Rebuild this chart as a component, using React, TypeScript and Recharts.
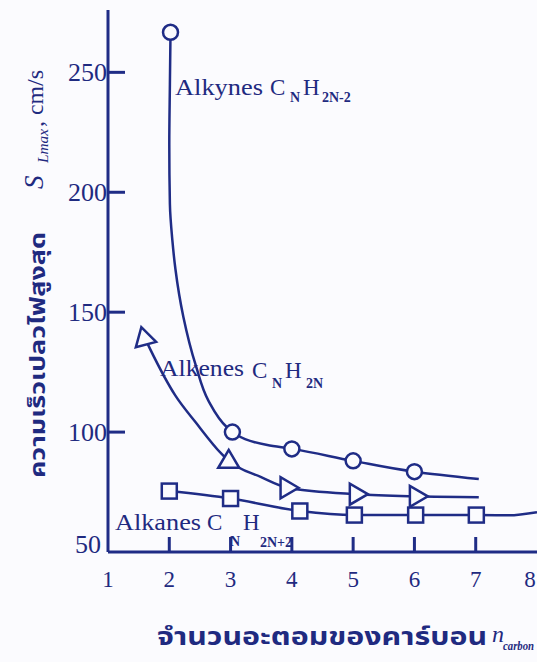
import React from 'react';
import { ComposedChart, Line, Scatter, XAxis, YAxis } from 'recharts';

// ---------- data ----------
const xTicks = [1, 2, 3, 4, 5, 6, 7, 8];
const xTopTicks = [2, 3, 4, 5, 6, 7];
const yTicks = [50, 100, 150, 200, 250];
const yRightTicks = [100, 150, 200, 250];

const alkyneMarkers = [
  { x: 2.02, y: 266.7 },
  { x: 3.03, y: 100 },
  { x: 4.0, y: 93 },
  { x: 5.0, y: 88 },
  { x: 6.0, y: 83.5 },
];
const alkyneCurve = [
  { x: 2.02, y: 266.7 },
  { x: 2.01, y: 245 },
  { x: 2.0, y: 220 },
  { x: 2.01, y: 195 },
  { x: 2.05, y: 180 },
  { x: 2.1, y: 168 },
  { x: 2.23, y: 148 },
  { x: 2.43, y: 128 },
  { x: 2.64, y: 113 },
  { x: 2.94, y: 102 },
  { x: 3.03, y: 100 },
  { x: 3.6, y: 94.6 },
  { x: 4.0, y: 93 },
  { x: 5.0, y: 88 },
  { x: 6.0, y: 83.5 },
  { x: 7.05, y: 80.4 },
];

const alkeneMarkers = [
  { x: 1.59, y: 139.3 },
  { x: 2.97, y: 88 },
  { x: 3.93, y: 76.8 },
  { x: 5.06, y: 74.1 },
  { x: 6.04, y: 73.2 },
];
const alkeneCurve = [
  { x: 1.6, y: 139.3 },
  { x: 1.69, y: 134.5 },
  { x: 2.1, y: 115.2 },
  { x: 2.43, y: 104.1 },
  { x: 2.85, y: 91 },
  { x: 2.97, y: 88 },
  { x: 3.49, y: 81.3 },
  { x: 3.93, y: 76.8 },
  { x: 5.06, y: 74.1 },
  { x: 6.04, y: 73.2 },
  { x: 7.05, y: 72.8 },
];

const alkaneMarkers = [
  { x: 2.0, y: 75.4 },
  { x: 3.0, y: 72.3 },
  { x: 4.13, y: 67.1 },
  { x: 5.02, y: 65.4 },
  { x: 6.02, y: 65.4 },
  { x: 7.01, y: 65.4 },
];
const alkaneCurve = [
  { x: 2.0, y: 75.4 },
  { x: 3.0, y: 72.3 },
  { x: 4.13, y: 67.1 },
  { x: 5.02, y: 65.4 },
  { x: 6.02, y: 65.4 },
  { x: 7.01, y: 65.4 },
  { x: 7.54, y: 65.3 },
  { x: 8.0, y: 66.6 },
];

// marker orientation (style, per alkene marker)
const alkeneMarkerAngles = [-15, 0, 90, 90, 90];

// ---------- styles ----------
const LINE = '#1f2c86';
const TXT = '#1f2a80';
const BG = '#fbfbfe';
const SERIF = "'Liberation Serif', 'Times New Roman', Times, serif";
const THAI = "'Noto Sans Thai', 'Noto Sans Thai UI', 'Noto Sans', 'DejaVu Sans', sans-serif";
const serifStyle: React.CSSProperties = { fontFamily: SERIF };
const thaiStyle: React.CSSProperties = { fontFamily: THAI, fontWeight: 700 };

const LeftTick = (props: any) => {
  const { x, y, payload } = props;
  return (
    <g>
      {payload.value !== 50 && (
        <line x1={x} y1={y} x2={x + 17} y2={y} stroke={LINE} strokeWidth={3} />
      )}
      <text
        x={payload.value === 50 ? x - 7 : x - 1}
        y={y}
        dy={payload.value === 50 ? 1 : 9}
        textAnchor="end"
        style={{ ...serifStyle, fontSize: 26 }}
        fill={TXT}
      >
        {payload.value}
      </text>
    </g>
  );
};

const RightTick = (props: any) => {
  const { x, y } = props;
  return <line x1={x} y1={y} x2={x - 17} y2={y} stroke={LINE} strokeWidth={3} />;
};

const BottomTick = (props: any) => {
  const { x, y, payload } = props;
  const v = payload.value;
  return (
    <g>
      {v !== 1 && v !== 8 && (
        <line x1={x} y1={y} x2={x} y2={y - 15} stroke={LINE} strokeWidth={3} />
      )}
      <text
        x={v === 8 ? x - 7 : x}
        y={y + 35}
        textAnchor="middle"
        style={{ ...serifStyle, fontSize: 23 }}
        fill={TXT}
      >
        {v}
      </text>
    </g>
  );
};

const TopTick = (props: any) => {
  const { x, y } = props;
  return <line x1={x} y1={y} x2={x} y2={y + 14} stroke={LINE} strokeWidth={3} />;
};

const CircleMark = (props: any) => {
  const { cx, cy } = props;
  return <circle cx={cx} cy={cy} r={7.5} fill={BG} stroke={LINE} strokeWidth={2.5} />;
};

const SquareMark = (props: any) => {
  const { cx, cy } = props;
  return (
    <rect x={cx - 7.5} y={cy - 7.5} width={15} height={15} fill={BG} stroke={LINE} strokeWidth={2.5} />
  );
};

const TriangleMark = (props: any) => {
  const { cx, cy, payload } = props;
  const idx = alkeneMarkers.findIndex((p) => p.x === payload.x);
  const angle = alkeneMarkerAngles[idx] ?? 0;
  return (
    <polygon
      points="0,-11 -10.5,7 10.5,7"
      transform={`translate(${cx},${cy}) rotate(${angle})`}
      fill={BG}
      stroke={LINE}
      strokeWidth={2.5}
      strokeLinejoin="miter"
    />
  );
};

const T = (p: any) => {
  const { size, bold, italic, children, ...rest } = p;
  return (
    <text
      {...rest}
      style={{
        fontFamily: SERIF,
        fontSize: size,
        fontWeight: bold ? 700 : 400,
        fontStyle: italic ? 'italic' : 'normal',
      }}
    >
      {children}
    </text>
  );
};

export default function App() {
  return (
    <div
      style={{
        position: 'fixed',
        left: 0,
        top: 0,
        width: 537,
        height: 662,
        overflow: 'hidden',
        background: BG,
      }}
    >
      <ComposedChart
        width={540}
        height={662}
        margin={{ top: 10, right: 3, left: 8, bottom: 0 }}
      >
        <XAxis
          xAxisId="b"
          type="number"
          dataKey="x"
          domain={[1, 8]}
          ticks={xTicks}
          interval={0}
          allowDataOverflow
          height={110}
          tickSize={0}
          tickMargin={0}
          tickLine={false}
          axisLine={{ stroke: LINE, strokeWidth: 3 }}
          tick={<BottomTick />}
        />
        <XAxis
          xAxisId="t"
          orientation="top"
          type="number"
          dataKey="x"
          domain={[1, 8]}
          ticks={xTopTicks}
          interval={0}
          allowDataOverflow
          height={0}
          tickSize={0}
          tickMargin={0}
          tickLine={false}
          axisLine={{ stroke: LINE, strokeWidth: 3 }}
          tick={<TopTick />}
        />
        <YAxis
          yAxisId="l"
          type="number"
          dataKey="y"
          domain={[50, 276]}
          ticks={yTicks}
          interval={0}
          allowDataOverflow
          width={100}
          tickSize={0}
          tickMargin={0}
          tickLine={false}
          axisLine={{ stroke: LINE, strokeWidth: 3 }}
          tick={<LeftTick />}
        />
        <YAxis
          yAxisId="r"
          orientation="right"
          type="number"
          dataKey="y"
          domain={[50, 276]}
          ticks={yRightTicks}
          interval={0}
          allowDataOverflow
          width={0}
          tickSize={0}
          tickMargin={0}
          tickLine={false}
          axisLine={{ stroke: LINE, strokeWidth: 3 }}
          tick={<RightTick />}
        />

        <Line
          xAxisId="b"
          yAxisId="l"
          data={alkyneCurve}
          dataKey="y"
          type="monotoneY"
          stroke={LINE}
          strokeWidth={2.5}
          dot={false}
          activeDot={false}
          isAnimationActive={false}
        />
        <Line
          xAxisId="b"
          yAxisId="l"
          data={alkeneCurve}
          dataKey="y"
          type="monotone"
          stroke={LINE}
          strokeWidth={2.5}
          dot={false}
          activeDot={false}
          isAnimationActive={false}
        />
        <Line
          xAxisId="b"
          yAxisId="l"
          data={alkaneCurve}
          dataKey="y"
          type="monotone"
          stroke={LINE}
          strokeWidth={2.5}
          dot={false}
          activeDot={false}
          isAnimationActive={false}
        />

        <Scatter
          xAxisId="b"
          yAxisId="l"
          data={alkyneMarkers}
          dataKey="y"
          shape={<CircleMark />}
          isAnimationActive={false}
        />
        <Scatter
          xAxisId="b"
          yAxisId="l"
          data={alkeneMarkers}
          dataKey="y"
          shape={<TriangleMark />}
          isAnimationActive={false}
        />
        <Scatter
          xAxisId="b"
          yAxisId="l"
          data={alkaneMarkers}
          dataKey="y"
          shape={<SquareMark />}
          isAnimationActive={false}
        />
      </ComposedChart>

      <svg
        width={537}
        height={662}
        style={{ position: 'absolute', left: 0, top: 0, pointerEvents: 'none' }}
      >
        {/* series annotations */}
        <g fill={TXT}>
          <T x={175} y={95} size={23} textLength={88} lengthAdjust="spacingAndGlyphs">Alkynes</T>
          <T x={270} y={95} size={23}>C</T>
          <T x={290} y={102} size={14} bold>N</T>
          <T x={303} y={95} size={23}>H</T>
          <T x={322} y={102} size={14} bold>2N-2</T>

          <T x={160} y={376} size={23} textLength={84} lengthAdjust="spacingAndGlyphs">Alkenes</T>
          <T x={252} y={378} size={23}>C</T>
          <T x={272} y={388} size={14} bold>N</T>
          <T x={285} y={378} size={23}>H</T>
          <T x={306} y={388} size={14} bold>2N</T>

          <T x={115} y={530} size={23} textLength={86} lengthAdjust="spacingAndGlyphs">Alkanes</T>
          <T x={207} y={530} size={23}>C</T>
          <T x={230} y={546} size={14} bold>N</T>
          <T x={243} y={530} size={23}>H</T>
          <T x={260} y={547} size={14} bold>2N+2</T>
        </g>

        {/* y-axis title */}
        <g fill={TXT}>
          <text
            transform="translate(45,478) rotate(-90)"
            style={{ ...thaiStyle, fontSize: 22 }}
            textLength={246}
            lengthAdjust="spacingAndGlyphs"
          >
            ความเร็วเปลวไฟสูงสุด
          </text>
          <T transform="translate(43,189) rotate(-90)" size={27} italic>
            S
          </T>
          <T
            transform="translate(48,163) rotate(-90)"
            size={14}
            italic
            textLength={34}
            lengthAdjust="spacingAndGlyphs"
          >
            Lmax
          </T>
          <T
            transform="translate(43,127) rotate(-90)"
            size={24}
            textLength={57}
            lengthAdjust="spacingAndGlyphs"
          >
            , cm/s
          </T>
        </g>

        {/* x-axis title */}
        <g fill={TXT}>
          <text
            x={157}
            y={645}
            style={{ ...thaiStyle, fontSize: 24 }}
            textLength={330}
            lengthAdjust="spacingAndGlyphs"
          >
            จำนวนอะตอมของคาร์บอน
          </text>
          <T x={492} y={642} size={24} italic>
            n
          </T>
          <T
            x={503}
            y={650}
            size={12}
            italic
            bold
            textLength={31}
            lengthAdjust="spacingAndGlyphs"
          >
            carbon
          </T>
        </g>
      </svg>
    </div>
  );
}
